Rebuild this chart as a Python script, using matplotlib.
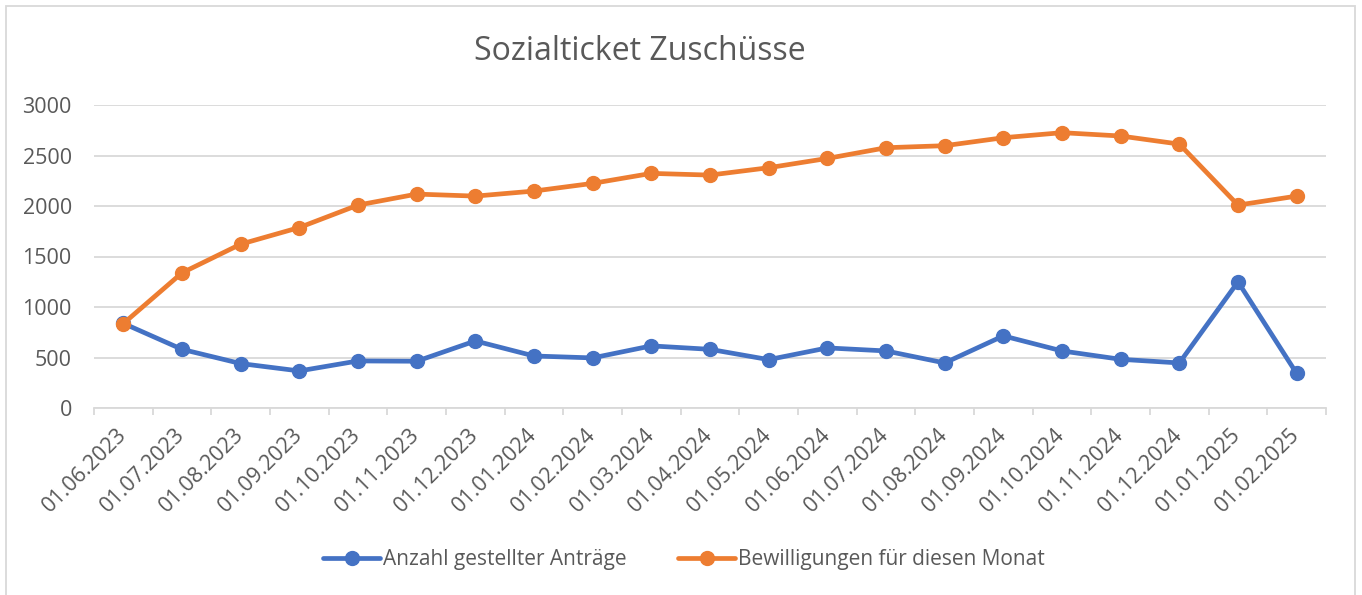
import matplotlib
matplotlib.use('Agg')
import matplotlib.pyplot as plt
from matplotlib.patches import Rectangle

plt.rcParams['font.family'] = ['Open Sans', 'DejaVu Sans']

BLUE = '#4472C4'
ORANGE = '#ED7D31'
GRID = '#D9D9D9'
TEXT = '#595959'

# ---------------------------------------------------------------------------
# Data
# ---------------------------------------------------------------------------
months = ['01.06.2023', '01.07.2023', '01.08.2023', '01.09.2023', '01.10.2023',
          '01.11.2023', '01.12.2023', '01.01.2024', '01.02.2024', '01.03.2024',
          '01.04.2024', '01.05.2024', '01.06.2024', '01.07.2024', '01.08.2024',
          '01.09.2024', '01.10.2024', '01.11.2024', '01.12.2024', '01.01.2025',
          '01.02.2025']
antraege = [838, 581, 440, 367, 466, 463, 664, 515, 496, 615,
            581, 479, 595, 565, 446, 714, 565, 482, 446, 1249, 342]
bewilligungen = [836, 1338, 1622, 1787, 2009, 2118, 2098, 2148, 2224, 2323,
                 2306, 2379, 2471, 2577, 2597, 2676, 2726, 2693, 2613, 2009, 2098]
y_ticks = [0, 500, 1000, 1500, 2000, 2500, 3000]

fig = plt.figure(figsize=(13.62, 5.95), dpi=100)
ax = fig.add_axes([94 / 1362, 1 - 408 / 595, 1232 / 1362, 303 / 595])

x = range(len(months))
ax.plot(x, antraege, color=BLUE, lw=3.4, marker='o', ms=10, zorder=3,
        label='Anzahl gestellter Anträge', solid_capstyle='round')
ax.plot(x, bewilligungen, color=ORANGE, lw=3.4, marker='o', ms=10, zorder=4,
        label='Bewilligungen für diesen Monat', solid_capstyle='round')

ax.set_xlim(-0.5, len(months) - 0.5)
ax.set_ylim(0, 3000)
ax.set_yticks(y_ticks)
ax.set_yticklabels([str(v) for v in y_ticks], fontsize=15.5, color=TEXT)
ax.yaxis.grid(True, color=GRID, lw=1.3)
ax.set_axisbelow(True)
ax.tick_params(axis='y', length=0, pad=16)

ax.set_xticks(list(x))
ax.set_xticklabels(months, rotation=45, ha='right', va='center',
                   rotation_mode='anchor', fontsize=15.5, color=TEXT)
ax.set_xticks([i - 0.5 for i in range(len(months) + 1)], minor=True)
ax.tick_params(axis='x', which='major', length=0, pad=17)
ax.tick_params(axis='x', which='minor', length=5, width=1.3, color=GRID)

for side in ['left', 'right', 'top']:
    ax.spines[side].set_visible(False)
ax.spines['bottom'].set_color(GRID)
ax.spines['bottom'].set_linewidth(1.3)

fig.text(640 / 1362, 1 - 52 / 595, 'Sozialticket Zuschüsse', ha='center',
         va='center', fontsize=23, color=TEXT)

fig.legend(loc='center', bbox_to_anchor=(684 / 1362, 1 - 560 / 595), ncol=2,
           frameon=False, fontsize=15, handlelength=2.7, columnspacing=2.5,
           handletextpad=0.15, labelcolor=TEXT)

fig.patches.append(Rectangle((6 / 1362, -0.05), 1349 / 1362, 1.05 - 6 / 595,
                             transform=fig.transFigure, fill=False,
                             edgecolor=GRID, lw=1.3))

fig.savefig('out.png', dpi=100, facecolor='white')
